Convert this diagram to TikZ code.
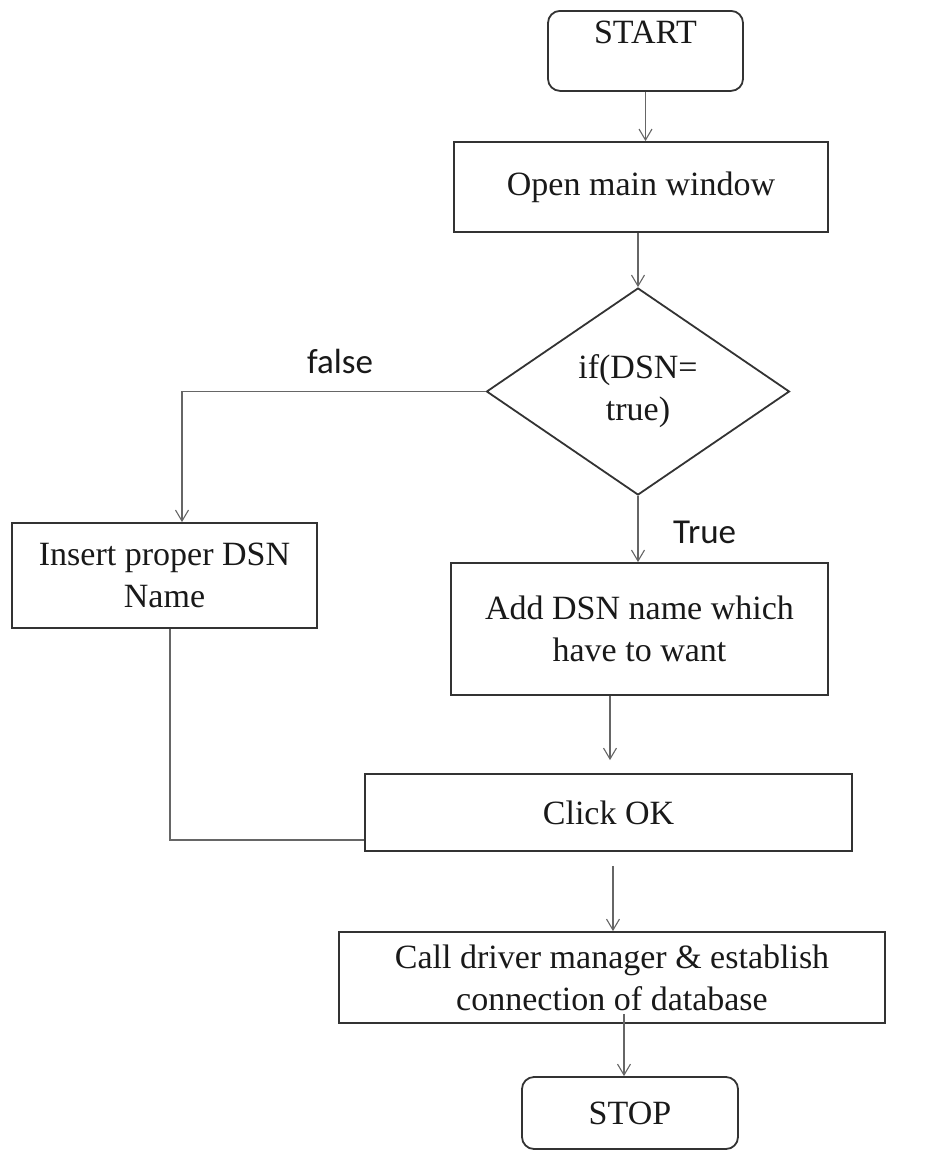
\documentclass[tikz,border=0pt]{standalone}
\usepackage{fontspec}
\setmainfont{Liberation Serif}
\newfontfamily\labelfont{Carlito}
\usetikzlibrary{shapes.geometric,arrows.meta}

\begin{document}
\begin{tikzpicture}[x=1pt,y=-1pt,
  boxtext/.style={font=\fontsize{34}{42}\selectfont, align=center, text=black!90},
  stepbox/.style={boxtext, draw=black!80, line width=1.8pt, rectangle, inner sep=0pt},
  termbox/.style={stepbox, rounded corners=12pt},
  decision/.style={boxtext, draw=black!80, line width=1.8pt, diamond, inner sep=0pt},
  flow/.style={draw=black!60, line width=1.3pt, -{Straight Barb[length=11pt,width=13pt,line width=1.1pt]}},
  plainline/.style={draw=black!60, line width=1.3pt},
  branch/.style={font=\labelfont\fontsize{35}{40}\selectfont, text=black!90, inner sep=0pt}
]
\useasboundingbox (0,0) rectangle (936,1152);

% terminal and process boxes
\node[termbox, anchor=north, minimum width=195pt, text height=25pt, text depth=39pt, inner ysep=8pt]
  (start) at (645.5,10) {START};
\node[stepbox, minimum width=374pt, minimum height=90pt] (open) at (641,187) {Open main window};
\node[decision, minimum width=303pt, minimum height=207pt] (dec) at (638,391.5) {if(DSN=\\true)};
\node[stepbox, minimum width=305pt, minimum height=105pt] (insert) at (164.5,575.5) {Insert proper DSN\\Name};
\node[stepbox, minimum width=377pt, minimum height=132pt] (add) at (639.5,629) {Add DSN name which\\have to want};
\node[stepbox, minimum width=487pt, minimum height=77pt] (click) at (608.5,812.5) {Click OK};
\node[stepbox, minimum width=546pt, minimum height=91pt] (call) at (612,977.5) {Call driver manager \& establish\\connection of database};
\node[termbox, minimum width=216pt, minimum height=72pt] (stop) at (630,1113) {STOP};

% branch labels
\node[branch, anchor=base] (flabel) at (340,373) {false};
\node[branch, anchor=base west] (tlabel) at (673,543) {True};

% connectors
\draw[flow] (start.south) -- (start.south |- open.north);
\draw[flow] (dec.north |- open.south) -- (dec.north);
\draw[flow] (dec.west) -| ([xshift=17.5pt]insert.north);
\draw[flow] (dec.south) -- (dec.south |- add.north);
\draw[flow, shorten >=13pt] ([xshift=-29.5pt]add.south) -- ([xshift=-29.5pt]add.south |- click.north);
\draw[plainline] ([xshift=5.5pt]insert.south) |- ([yshift=-27.5pt]click.west);
\draw[flow, shorten <=14pt] ([xshift=4.5pt]click.south) -- ([xshift=4.5pt]click.south |- call.north);
\draw[flow] ([xshift=12pt,yshift=10pt]call.south) -- ([xshift=12pt]call.south |- stop.north);
\end{tikzpicture}
\end{document}
